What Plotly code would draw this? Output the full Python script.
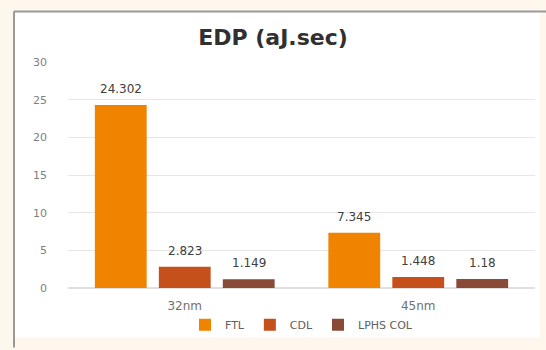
import plotly.graph_objects as go

# EDP values per technology node
categories = ["32nm", "45nm"]
series_names = ["FTL", "CDL", "LPHS COL"]
ftl = [24.302, 7.345]
cdl = [2.823, 1.448]
lphs_col = [1.149, 1.18]
value_labels = [["24.302", "7.345"], ["2.823", "1.448"], ["1.149", "1.18"]]
y_ticks = [0, 5, 10, 15, 20, 25, 30]

colors = ["#F08300", "#C5501C", "#8A4A38"]
series_values = [ftl, cdl, lphs_col]
FONT = "DejaVu Sans"

# plot-area geometry in pixels
W, H = 546, 350
L, R, T, B = 68, 535, 62, 290
pw, ph = R - L, B - T


def px_x(p):
    return (p - L) / pw


def px_y(p):
    return (B - p) / ph


fig = go.Figure()
for name, vals, col in zip(series_names, series_values, colors):
    fig.add_trace(go.Bar(
        x=categories, y=vals, name=name,
        marker=dict(color=col, line=dict(width=0)),
    ))

# value labels above each bar
offsets = [-64, 0, 64]
for si, vals in enumerate(series_values):
    for ci, v in enumerate(vals):
        fig.add_annotation(
            x=categories[ci], y=v, text=value_labels[si][ci],
            xref="x", yref="y", showarrow=False,
            xshift=offsets[si], yanchor="bottom", yshift=7,
            font=dict(family=FONT, size=12, color="#404040"),
        )

# white card with gray frame on the top and left edges
fig.add_shape(type="rect", xref="paper", yref="paper",
              x0=px_x(14), x1=px_x(540), y0=px_y(340), y1=px_y(11),
              fillcolor="white", line=dict(width=0), layer="below")
fig.add_shape(type="line", xref="paper", yref="paper",
              x0=px_x(14), x1=px_x(546), y0=px_y(11), y1=px_y(11),
              line=dict(color="#9a9a9a", width=2))
fig.add_shape(type="line", xref="paper", yref="paper",
              x0=px_x(14), x1=px_x(14), y0=px_y(350), y1=px_y(11),
              line=dict(color="#9a9a9a", width=2))

fig.update_layout(
    width=W, height=H,
    margin=dict(l=L, r=W - R, t=T, b=H - B),
    paper_bgcolor="#FDF7EE",
    plot_bgcolor="rgba(0,0,0,0)",
    barmode="group",
    bargap=0.178,
    bargroupgap=0.19,
    title=dict(text="<b>EDP (aJ.sec)</b>", x=0.5, xanchor="center",
               y=1 - 37 / H, yanchor="middle",
               font=dict(family=FONT, size=22, color="#303030")),
    xaxis=dict(showgrid=False, showline=False, zeroline=False, ticks="",
               tickfont=dict(family=FONT, size=12, color="#707070"),
               ticklabelstandoff=9),
    yaxis=dict(range=[0, 30], tickvals=y_ticks, showgrid=True,
               gridcolor="#E6E6E6", gridwidth=1, zeroline=True,
               zerolinecolor="#E0E0E0", showline=False, ticks="",
               tickfont=dict(family=FONT, size=11, color="#808080"),
               ticklabelstandoff=20),
    legend=dict(orientation="h", x=0.5, xanchor="center",
                y=px_y(327), yanchor="middle",
                font=dict(family=FONT, size=11, color="#606060"),
                itemwidth=30, bgcolor="rgba(0,0,0,0)"),
    showlegend=True,
)

fig.write_html("out.html")
